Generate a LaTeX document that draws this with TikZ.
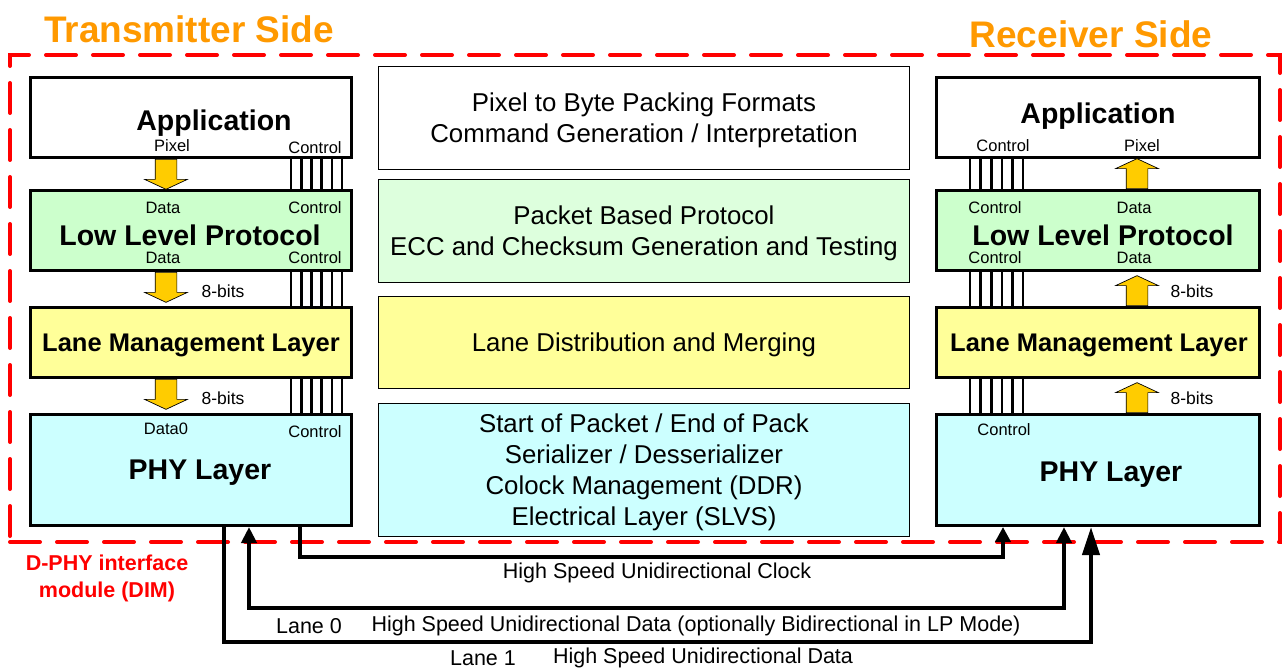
\documentclass[tikz,border=0pt]{standalone}
\usepackage{fontspec}
\setmainfont{Liberation Sans}
\usetikzlibrary{arrows.meta,positioning,shapes.arrows}
\definecolor{busgold}{HTML}{FFCC00}
\definecolor{llpgreen}{HTML}{CCFFCC}
\definecolor{midgreen}{HTML}{DDFFDD}
\definecolor{lmlyellow}{HTML}{FFFF99}
\definecolor{phycyan}{HTML}{CCFFFF}
\definecolor{sideorange}{HTML}{FF9900}
\tikzset{
    layer/.style={
        draw,
        line width=3pt,
        minimum width=321pt,
        inner sep=0pt
    },
    stack/.style={
        draw,
        line width=1.3pt,
        minimum width=531pt,
        inner sep=0pt
    },
    stacktxt/.style={align=center, font=\fontsize{25.8}{31}\selectfont},
    title/.style={font=\bfseries\fontsize{28.5}{32}\selectfont},
    tag/.style={font=\fontsize{16.5}{18}\selectfont},
    bits/.style={font=\fontsize{17.5}{19}\selectfont},
    busarrow/.style={
        single arrow,
        draw,
        fill=busgold,
        line width=0.7pt,
        minimum height=30pt,
        inner sep=10.5pt,
        single arrow head extend=10.5pt,
        single arrow tip angle=130,
        anchor=tail
    },
    busdown/.style={busarrow, rotate=-90},
    busup/.style={busarrow, rotate=90},
    wire/.style={line width=2.6pt},
    link/.style={line width=4pt},
    lbl/.style={font=\fontsize{21.5}{24}\selectfont},
    dim/.style={
        draw=red,
        line width=4pt,
        dash pattern=on 30pt off 17pt,
        line cap=round
    },
    sidehead/.style={text=sideorange, font=\bfseries\fontsize{37}{42}\selectfont}
}

\begin{document}
\begin{tikzpicture}[x=1pt,y=-1pt]
\useasboundingbox (0,0) rectangle (1282,671);

% interface module frame
\node[dim, minimum width=1270pt, minimum height=487pt] (dimbox) at (645,298.5) {};
\node[sidehead] (txside) at (189,29) {Transmitter Side};
\node[sidehead] (rxside) at (1091,34) {Receiver Side};
\node[red, align=center, font=\bfseries\fontsize{21.5}{27}\selectfont] (dimlbl) at (107,578) {D-PHY interface\\module (DIM)};

% transmitter stack
\node[layer, fill=white, minimum height=80pt] (appL) at (191,117.5) {};
\node[layer, fill=llpgreen, minimum height=80pt] (llpL) at (191,230.5) {};
\node[layer, fill=lmlyellow, minimum height=70pt] (lmlL) at (191,342.5) {};
\node[layer, fill=phycyan, minimum height=111pt] (phyL) at (191,470) {};

\node[title] (appLtxt) at (214,123) {Application};
\node[title] (llpLtxt) at (190,235) {Low Level Protocol};
\node[title, font=\bfseries\fontsize{25.5}{30}\selectfont] (lmlLtxt) at (191,345) {Lane Management Layer};
\node[title] (phyLtxt) at (200,473) {PHY Layer};

\node[tag] (pixLtag) at (172,146) {Pixel};
\node[tag] (ctlLa) at (315,148) {Control};
\node[tag] (datLa) at (163,208) {Data};
\node[tag] (ctlLb) at (315,208) {Control};
\node[tag] (datLb) at (163,258) {Data};
\node[tag] (ctlLc) at (315,258) {Control};
\node[tag] (datLc) at (166,429) {Data0};
\node[tag] (ctlLd) at (315,432) {Control};
\node[bits] (bitsLa) at (223,291) {8-bits};
\node[bits] (bitsLb) at (223,398) {8-bits};

% middle functions
\node[stack, fill=white, minimum height=103pt] (fmt) at (644,118) {};
\node[stack, fill=midgreen, minimum height=103pt] (pkt) at (644,231) {};
\node[stack, fill=lmlyellow, minimum height=92pt] (lane) at (644,342.5) {};
\node[stack, fill=phycyan, minimum height=133pt] (elec) at (644,470) {};

\node[stacktxt] (fmttxt) at (644,120)
    {Pixel to Byte Packing Formats\\Command Generation / Interpretation};
\node[stacktxt] (pkttxt) at (644,233)
    {Packet Based Protocol\\ECC and Checksum Generation and Testing};
\node[stacktxt] (lanetxt) at (644,345) {Lane Distribution and Merging};
\node[stacktxt] (electxt) at (644,472)
    {Start of Packet / End of Pack\\Serializer / Desserializer\\Colock Management (DDR)\\Electrical Layer (SLVS)};

% receiver stack
\node[layer, fill=white, minimum width=323pt, minimum height=80pt] (appR) at (1098,117.5) {};
\node[layer, fill=llpgreen, minimum width=323pt, minimum height=80pt] (llpR) at (1098,230.5) {};
\node[layer, fill=lmlyellow, minimum width=323pt, minimum height=70pt] (lmlR) at (1098,342.5) {};
\node[layer, fill=phycyan, minimum width=323pt, minimum height=111pt] (phyR) at (1098,470) {};

\node[title] (appRtxt) at (1098,116) {Application};
\node[title] (llpRtxt) at (1103,235) {Low Level Protocol};
\node[title, font=\bfseries\fontsize{25.5}{30}\selectfont] (lmlRtxt) at (1099,345) {Lane Management Layer};
\node[title] (phyRtxt) at (1111,475) {PHY Layer};

\node[tag] (ctlRa) at (1003,146) {Control};
\node[tag] (pixRtag) at (1142,146) {Pixel};
\node[tag] (ctlRb) at (995,208) {Control};
\node[tag] (datRa) at (1134,208) {Data};
\node[tag] (ctlRc) at (995,258) {Control};
\node[tag] (datRb) at (1134,258) {Data};
\node[tag] (ctlRd) at (1004,430) {Control};
\node[bits] (bitsRa) at (1192,291) {8-bits};
\node[bits] (bitsRb) at (1192,398) {8-bits};

% data buses
\node[busdown] (busLa) at ([xshift=-25pt]appL.south) {};
\node[busdown] (busLb) at ([xshift=-25pt]llpL.south) {};
\node[busdown] (busLc) at ([xshift=-25pt]lmlL.south) {};
\node[busup] (busRa) at ([xshift=39pt]phyR.north) {};
\node[busup] (busRb) at ([xshift=39pt]lmlR.north) {};
\node[busup] (busRc) at ([xshift=39pt]llpR.north) {};

% control wires
\foreach \a/\b in {appL/llpL,llpL/lmlL,lmlL/phyL}
    \foreach \dx in {-62,-51.8,-41.6,-31.4,-21.2,-11}
        \draw[wire] ([xshift=\dx*1pt]\a.south east) -- ([xshift=\dx*1pt]\b.north east);
\foreach \a/\b in {appR/llpR,llpR/lmlR,lmlR/phyR}
    \foreach \dx in {35,45.6,56.2,66.8,77.4,88}
        \draw[wire] ([xshift=\dx*1pt]\a.south west) -- ([xshift=\dx*1pt]\b.north west);

% lanes
\coordinate (clkL) at (300,557);
\coordinate (clkR) at (1003,557);
\coordinate (ln0L) at (249,608);
\coordinate (ln0R) at (1064,608);
\coordinate (ln1L) at (224,642);
\coordinate (ln1R) at (1091,642);

\draw[link, -{Triangle[length=15pt,width=15pt]}]
    (phyL.south -| clkL) -- (clkL) -- (clkR) -- (phyR.south -| clkR);
\draw[link, {Triangle[length=16pt,width=15pt]}-{Triangle[length=16pt,width=15pt]}]
    (phyL.south -| ln0L) -- (ln0L) -- (ln0R) -- (phyR.south -| ln0R);
\draw[link, -{Triangle[length=28pt,width=17pt]}]
    (phyL.south -| ln1L) -- (ln1L) -- (ln1R) -- (phyR.south -| ln1R);

\node[lbl] (clklbl) at (657,573) {High Speed Unidirectional Clock};
\node[lbl] (ln0name) at (309,626) {Lane 0};
\node[lbl] (ln0lbl) at (696,626) {High Speed Unidirectional Data (optionally Bidirectional in LP Mode)};
\node[lbl] (ln1name) at (483,658) {Lane 1};
\node[lbl] (ln1lbl) at (703,658) {High Speed Unidirectional Data};

\end{tikzpicture}
\end{document}
